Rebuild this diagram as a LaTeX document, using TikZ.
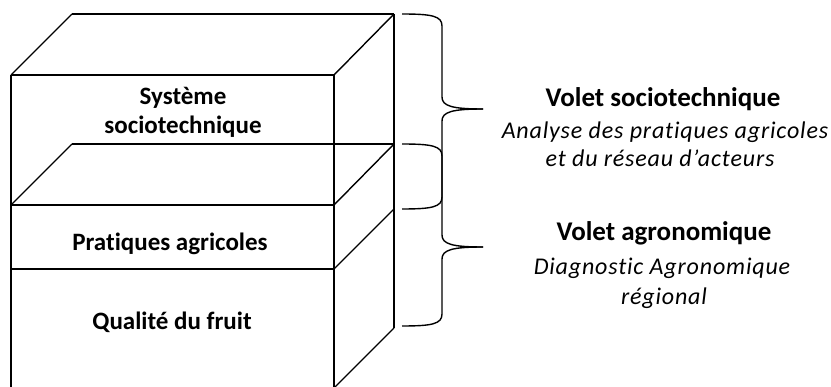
\documentclass[tikz,border=0pt]{standalone}
\usepackage{fontspec}
\setmainfont{Carlito}[Ligatures=NoCommon]
\begin{document}
\begin{tikzpicture}[x=1pt,y=-1pt,
  edge/.style={line width=1.4pt,black},
  brace/.style={line width=1.4pt,black},
  lefttext/.style={font=\fontsize{25}{30}\selectfont\bfseries,anchor=base,inner sep=0pt},
  headtext/.style={font=\fontsize{27}{30}\selectfont\bfseries,anchor=base,inner sep=0pt},
  subtext/.style={font=\fontsize{24}{29}\selectfont\itshape\addfontfeatures{LetterSpace=3.5},anchor=base,inner sep=0pt}]
\useasboundingbox (0,0) rectangle (831,387);
% corner coordinates
\coordinate (a1) at (72,14);   \coordinate (a2) at (394,14);
\coordinate (b1) at (11,75);   \coordinate (b2) at (334,75);
\coordinate (c1) at (72,144);  \coordinate (c2) at (394,144);
\coordinate (d1) at (11,205);  \coordinate (d2) at (334,205);
\coordinate (e1) at (11,269);  \coordinate (e2) at (334,269);
\coordinate (e3) at (394,209);
\coordinate (f1) at (11,388);  \coordinate (f2) at (334,388);
\coordinate (f3) at (394,328);
% cube edges
\draw[edge] (a1) -- (a2);
\draw[edge] (a1) -- (b1);
\draw[edge] (a2) -- (b2);
\draw[edge] (b1) -- (b2);
\draw[edge] (b1) -- (f1);
\draw[edge] (b2) -- (f2);
\draw[edge] (a2) -- (f3);
\draw[edge] (c1) -- (c2);
\draw[edge] (c1) -- (d1);
\draw[edge] (c2) -- (d2);
\draw[edge] (d1) -- (d2);
\draw[edge] (e1) -- (e2);
\draw[edge] (e3) -- (e2);
\draw[edge] (f3) -- (f2);
% braces
\coordinate (br1t) at (402,14);  \coordinate (br1b) at (402,209); \coordinate (br1m) at (483,109);
\coordinate (br2t) at (402,144); \coordinate (br2b) at (402,326); \coordinate (br2m) at (483,247);
\draw[brace] (br1t) .. controls (432,14) and (442,16) .. (442,26) -- (442,97)
  .. controls (442,106) and (452,109) .. (br1m);
\draw[brace] (br1m) .. controls (452,109) and (442,112) .. (442,121) -- (442,197)
  .. controls (442,207) and (432,209) .. (br1b);
\draw[brace] (br2t) .. controls (432,144) and (442,146) .. (442,156) -- (442,235)
  .. controls (442,244) and (452,247) .. (br2m);
\draw[brace] (br2m) .. controls (452,247) and (442,250) .. (442,259) -- (442,314)
  .. controls (442,324) and (432,326) .. (br2b);
% texts
\node[lefttext] (sys1) at (183,105) {Système};
\node[lefttext] (sys2) at (183,134) {sociotechnique};
\node[lefttext] (prat) at (170,251) {Pratiques agricoles};
\node[lefttext] (qual) at (172,330) {Qualité du fruit};
\node[headtext] (vs) at (663,107) {Volet sociotechnique};
\node[subtext] (vsd1) at (665,139) {Analyse des pratiques agricoles};
\node[subtext] (vsd2) at (660,167) {et du réseau d’acteurs};
\node[headtext] (va) at (664,241) {Volet agronomique};
\node[subtext] (vad1) at (662,275) {Diagnostic Agronomique};
\node[subtext] (vad2) at (664,305) {régional};
\end{tikzpicture}
\end{document}
